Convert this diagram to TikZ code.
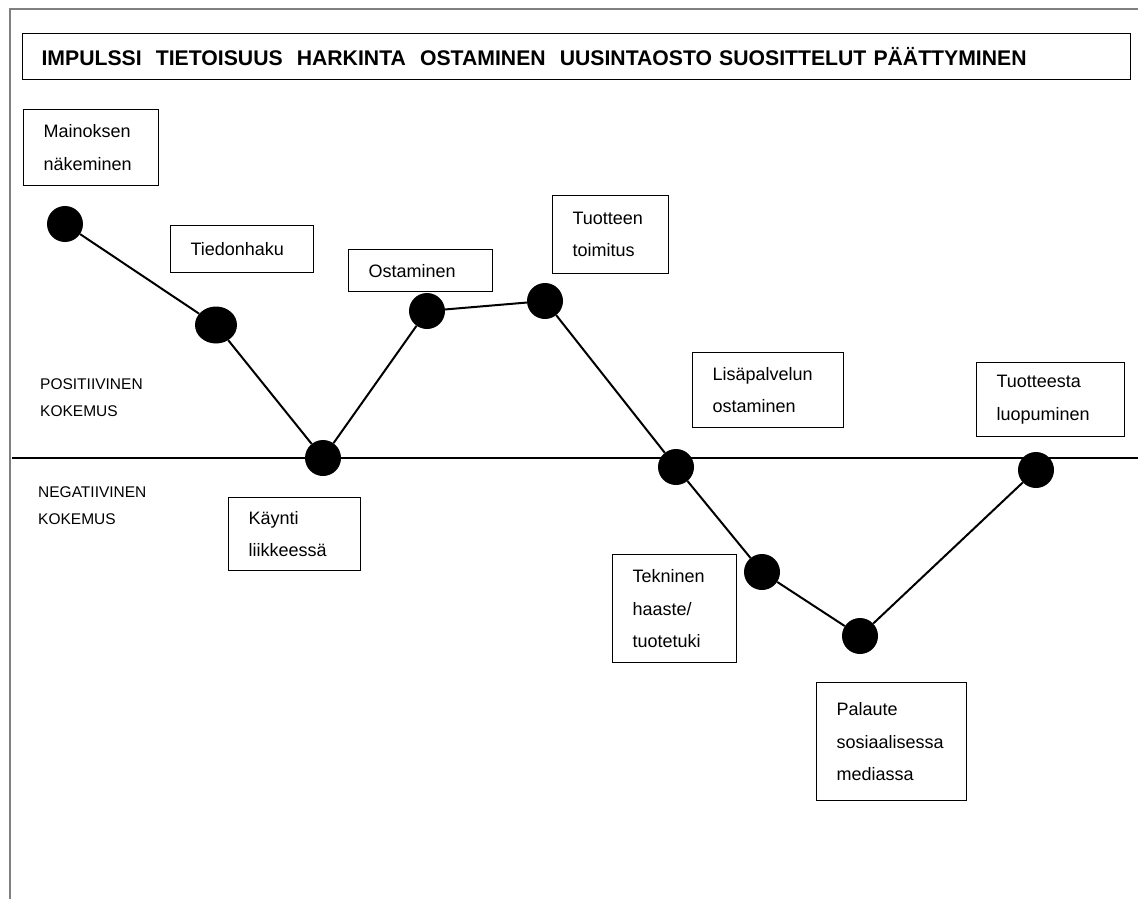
\documentclass[tikz,border=0pt]{standalone}
\usepackage{fontspec}
\setmainfont{Liberation Sans}
\usetikzlibrary{shapes.geometric}
\begin{document}
\begin{tikzpicture}[x=1pt,y=-1pt,
  box/.style={draw=black, line width=1.2pt, rectangle, anchor=north west, inner xsep=20pt, inner ysep=0pt, align=left,
    font=\fontsize{18}{32.5}\selectfont, execute at begin node={\hyphenpenalty=10000\relax}},
  dotn/.style={fill=black, circle, inner sep=0pt, minimum size=36pt},
  conn/.style={line width=2pt, black},
  lbl/.style={anchor=north west, inner sep=0pt, align=left, font=\fontsize{15.5}{27.5}\selectfont},
  frame/.style={draw=black!50, line width=1.5pt}]
\useasboundingbox (0,0) rectangle (1138,899);
% outer frame
\draw[frame] (10,899) -- (10,9) -- (1138,9);
% title
\node[draw=black, line width=1.2pt, anchor=north west, minimum height=46pt, text width=1070pt, inner xsep=19pt, inner ysep=0pt, align=left,
  font=\bfseries\fontsize{21.2}{25}\selectfont] (title) at (22,33)
  {IMPULSSI~ TIETOISUUS~ HARKINTA~ OSTAMINEN~ UUSINTAOSTO SUOSITTELUT PÄÄTTYMINEN};
% boxes
\node[box, text width=95pt, minimum height=76pt] (b1) at (23,109) {Mainoksen\\näkeminen};
\node[box, text width=103pt, minimum height=47pt] (b2) at (170,225) {Tiedonhaku};
\node[box, text width=104pt, minimum height=42pt] (b3) at (348,249) {Ostaminen};
\node[box, text width=76pt, minimum height=78pt] (b4) at (552,195) {Tuotteen\\toimitus};
\node[box, text width=111pt, minimum height=75pt] (b5) at (692,352) {Lisäpalvelun\\ostaminen};
\node[box, text width=108pt, minimum height=74pt] (b6) at (976,362) {Tuotteesta\\luopuminen};
\node[box, text width=92pt, minimum height=73pt] (b7) at (228,497) {Käynti\\liikkeessä};
\node[box, text width=84pt, minimum height=108pt] (b8) at (612,554) {Tekninen\\haaste/\\tuotetuki};
\node[box, text width=110pt, minimum height=118pt] (b9) at (816,682) {Palaute\\sosiaalisessa\\mediassa};
% side labels
\node[lbl] (pos) at (40,378) {POSITIIVINEN\\KOKEMUS};
\node[lbl] (neg) at (38,486) {NEGATIIVINEN\\KOKEMUS};
% axis line
\coordinate (hl) at (12,458);
\coordinate (hr) at (1138,458);
\draw[conn] (hl) -- (hr);
% dots
\node[dotn] (d1) at (65,224) {};
\node[dotn, ellipse, minimum width=42pt, minimum height=37pt] (d2) at (216,325) {};
\node[dotn] (d3) at (323,458) {};
\node[dotn] (d4) at (427,311) {};
\node[dotn] (d5) at (545,301) {};
\node[dotn] (d6) at (676,467) {};
\node[dotn] (d7) at (762,572) {};
\node[dotn] (d8) at (860,636) {};
\node[dotn] (d9) at (1036,470) {};
% connectors
\draw[conn] (d1) -- (d2) -- (d3) -- (d4) -- (d5) -- (d6) -- (d7) -- (d8) -- (d9);
\end{tikzpicture}
\end{document}
